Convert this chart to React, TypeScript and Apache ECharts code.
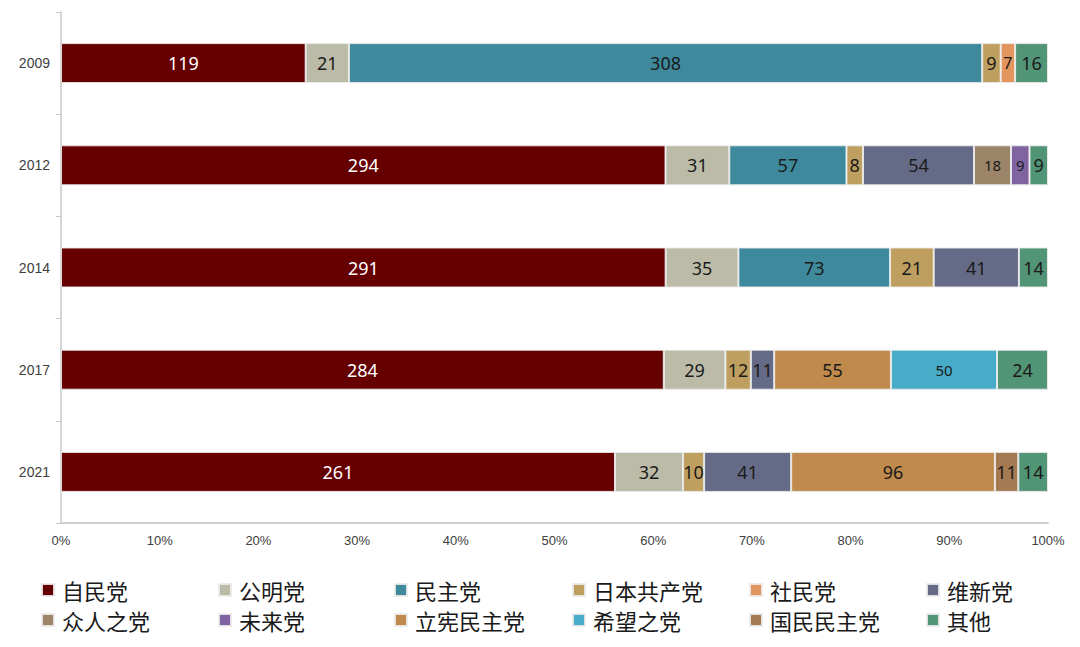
import React, { useEffect, useRef } from "react";
import * as echarts from "echarts";

const years = ["2009", "2012", "2014", "2017", "2021"];
const parties = [
  "自民党", "公明党", "民主党", "日本共产党", "社民党", "维新党",
  "众人之党", "未来党", "立宪民主党", "希望之党", "国民民主党", "其他",
];
const colors = [
  "#660000", "#BBBBA8", "#3E899C", "#BF9F5F", "#E2955D", "#656B86",
  "#9C8469", "#8064A2", "#BF8A4B", "#46ACC8", "#A57A52", "#529476",
];
// seats per party, per year (2009, 2012, 2014, 2017, 2021)
const ldp = [119, 294, 291, 284, 261];
const komeito = [21, 31, 35, 29, 32];
const dpj = [308, 57, 73, null, null];
const jcp = [9, 8, 21, 12, 10];
const sdp = [7, null, null, null, null];
const ishin = [null, 54, 41, 11, 41];
const yourParty = [null, 18, null, null, null];
const mirai = [null, 9, null, null, null];
const cdp = [null, null, null, 55, 96];
const kibo = [null, null, null, 50, null];
const dpfp = [null, null, null, null, 11];
const others = [16, 9, 14, 24, 14];

const seriesValues: (number | null)[][] = [
  ldp, komeito, dpj, jcp, sdp, ishin, yourParty, mirai, cdp, kibo, dpfp, others,
];
const labelSizes = [18, 18, 18, 18, 16, 18, 15, 15, 18, 15, 18, 18];
const xTicks = [0, 10, 20, 30, 40, 50, 60, 70, 80, 90, 100];

export default function App() {
  const ref = useRef<HTMLDivElement>(null);
  useEffect(() => {
    if (!ref.current) return;
    const chart = echarts.init(ref.current, null, { renderer: "svg" });
    const totals = years.map((_, i) =>
      seriesValues.reduce((s, arr) => s + (arr[i] || 0), 0)
    );
    const series = parties.map((name, k) => ({
      name,
      type: "bar",
      stack: "total",
      barWidth: 40,
      data: seriesValues[k].map((v, i) =>
        v == null ? null : (v / totals[i]) * 100
      ),
      itemStyle: {
        color: colors[k],
        borderColor: "rgba(235,235,235,0.9)",
        borderWidth: 1,
      },
      label: {
        show: true,
        position: "inside",
        fontFamily: "Noto Sans",
        fontSize: labelSizes[k],
        color: k === 0 ? "#FFFFFF" : "#1A1A1A",
        formatter: (p: any) => {
          const v = seriesValues[k][p.dataIndex];
          return v == null ? "" : String(v);
        },
      },
    }));
    const legends = [0, 1, 2, 3, 4, 5].map((c) => ({
      orient: "vertical",
      left: [41, 218, 394, 572, 749, 926][c],
      top: 579,
      padding: 0,
      icon: "rect",
      itemWidth: 12,
      itemHeight: 12,
      itemGap: 8,
      selectedMode: false,
      data: [parties[c], parties[c + 6]],
      textStyle: {
        fontFamily: "Noto Sans CJK SC",
        fontSize: 22,
        lineHeight: 22,
        color: "#1A1A1A",
        padding: [0, 0, 0, 3],
      },
    }));
    chart.setOption({
      animation: false,
      grid: { left: 61, right: 32, top: 12, bottom: 124 },
      legend: legends,
      xAxis: {
        type: "value",
        min: xTicks[0],
        max: xTicks[xTicks.length - 1],
        interval: 10,
        axisLine: { show: true, lineStyle: { color: "#D0D0D0", width: 2 } },
        axisTick: { show: false },
        splitLine: { show: false },
        axisLabel: {
          formatter: "{value}%",
          fontFamily: "Liberation Sans",
          fontSize: 13,
          color: "#404040",
          margin: 11,
        },
      },
      yAxis: {
        type: "category",
        inverse: true,
        data: years,
        axisLine: { show: true, lineStyle: { color: "#C8C8C8", width: 1.5 } },
        axisTick: { show: true, length: 5, lineStyle: { color: "#C8C8C8" } },
        axisLabel: {
          fontFamily: "Liberation Sans",
          fontSize: 14,
          color: "#404040",
          margin: 11,
        },
      },
      series,
    });
    return () => chart.dispose();
  }, []);
  return (
    <div
      ref={ref}
      style={{ position: "absolute", left: 0, top: 0, width: 1080, height: 647 }}
    />
  );
}
